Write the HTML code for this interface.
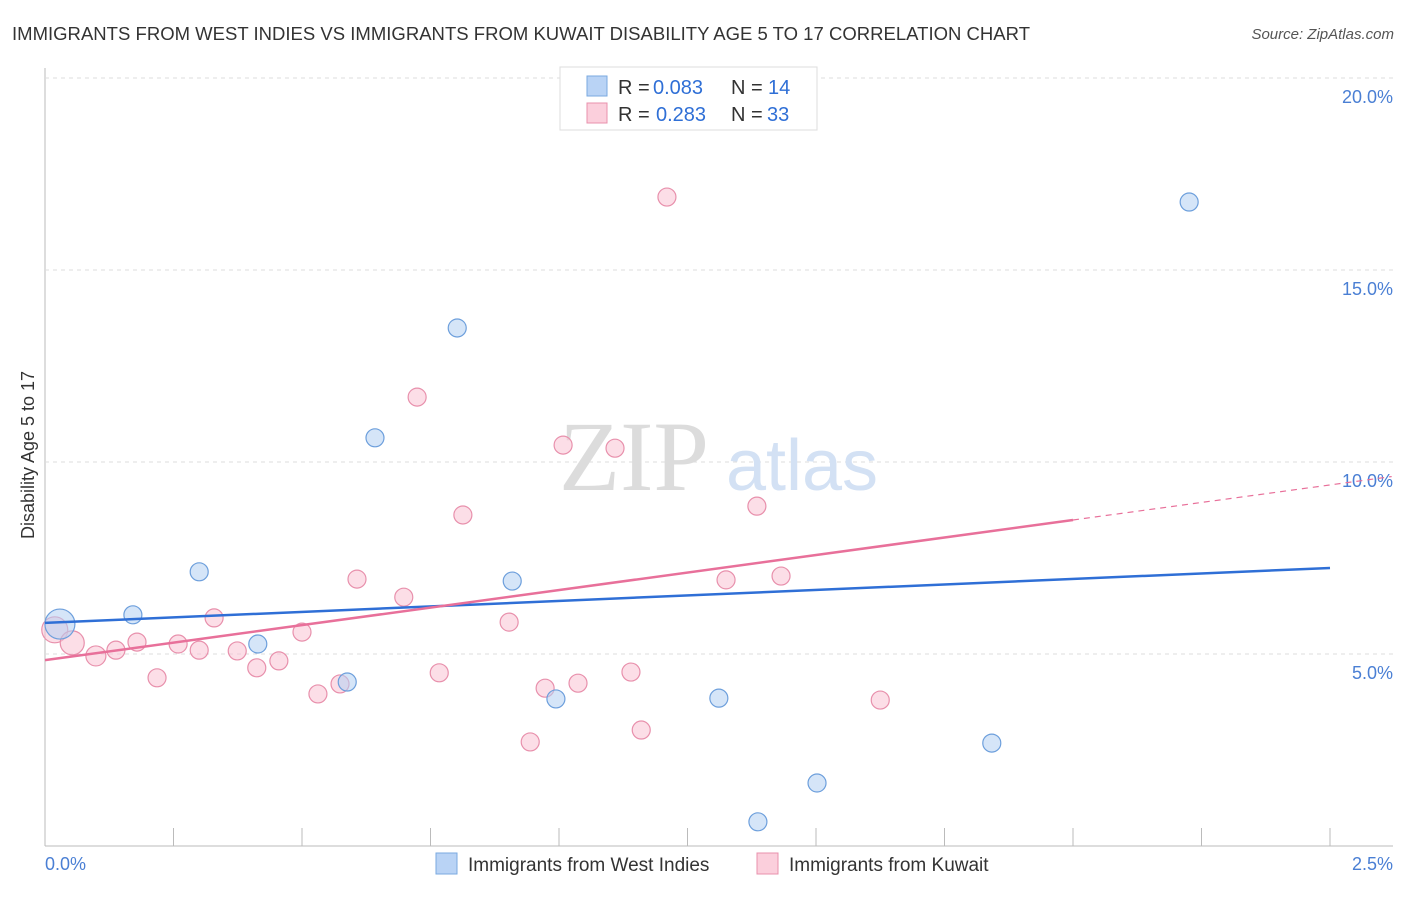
<!DOCTYPE html>
<html><head><meta charset="utf-8"><style>
body{margin:0;background:#fff;font-family:"Liberation Sans",sans-serif;}
</style></head><body>
<svg width="1406" height="892" xmlns="http://www.w3.org/2000/svg">
<text x="12" y="40" font-size="18.5" fill="#333" textLength="1018">IMMIGRANTS FROM WEST INDIES VS IMMIGRANTS FROM KUWAIT DISABILITY AGE 5 TO 17 CORRELATION CHART</text>
<text x="1394" y="39" font-size="15" fill="#555" font-style="italic" text-anchor="end">Source: ZipAtlas.com</text>
<g id="grid"></g>
<text x="634" y="490" font-size="100" fill="#dcdcdc" font-family="Liberation Serif,serif" text-anchor="middle">ZIP</text>
<text x="802" y="490" font-size="72" fill="#d3e1f4" text-anchor="middle">atlas</text>
<g id="marks"></g>
<text transform="translate(34,455) rotate(-90)" font-size="18" fill="#333" text-anchor="middle">Disability Age 5 to 17</text>
<text x="45" y="870" font-size="18" fill="#4a7fd4">0.0%</text>
<text x="1393" y="870" font-size="18" fill="#4a7fd4" text-anchor="end">2.5%</text>
<g font-size="20">
<rect x="560" y="67" width="257" height="63" fill="#fff" stroke="#ddd"/>
<rect x="587" y="76" width="20" height="20" fill="#b9d3f5" stroke="#7aaae0"/>
<text x="618" y="94" fill="#333">R =</text><text x="653" y="94" fill="#2f6fd6">0.083</text>
<text x="731" y="94" fill="#333">N =</text><text x="768" y="94" fill="#2f6fd6">14</text>
<rect x="587" y="103" width="20" height="20" fill="#fbcfdc" stroke="#e890ac"/>
<text x="618" y="121" fill="#333">R =</text><text x="656" y="121" fill="#2f6fd6">0.283</text>
<text x="731" y="121" fill="#333">N =</text><text x="767" y="121" fill="#2f6fd6">33</text>
</g>
<g>
<rect x="436" y="853" width="21" height="21" fill="#b9d3f5" stroke="#7aaae0"/>
<text x="468" y="871" font-size="19" fill="#333">Immigrants from West Indies</text>
<rect x="757" y="853" width="21" height="21" fill="#fbcfdc" stroke="#e890ac"/>
<text x="789" y="871" font-size="19" fill="#333">Immigrants from Kuwait</text>
</g>
</svg>
<script>
const yTicks=[5,10,15,20];
const blueX=[0.029,0.171,0.300,0.414,0.588,0.642,0.802,0.909,0.994,1.311,1.387,1.502,1.842,2.226];
const blueY=[5.78,6.02,7.14,5.26,4.27,10.63,13.49,6.90,3.83,3.85,0.63,1.64,2.68,16.77];
const blueR=[15,9,9,9,9,9,9,9,9,9,9,9,9,9];
const pinkX=[0.019,0.053,0.099,0.138,0.179,0.218,0.259,0.300,0.329,0.374,0.412,0.455,0.500,0.531,0.574,0.607,0.698,0.724,0.767,0.813,0.903,0.944,0.973,1.008,1.037,1.109,1.140,1.160,1.210,1.325,1.385,1.432,1.625];
const pinkY=[5.63,5.29,4.95,5.10,5.31,4.38,5.26,5.10,5.94,5.08,4.64,4.82,5.57,3.96,4.22,6.95,6.48,11.69,4.51,8.62,5.83,2.71,4.11,10.44,4.24,10.36,4.53,3.02,16.90,6.93,8.85,7.03,3.80];
const pinkR=[13,12,10,9,9,9,9,9,9,9,9,9,9,9,9,9,9,9,9,9,9,9,9,9,9,9,9,9,9,9,9,9,9];
const blueLine=[5.81,7.24];
const pinkLine=[4.84,1.825];
const NS="http://www.w3.org/2000/svg";
const xs=v=>45+v/2.5*1285, ys=v=>846-v*38.4;
function mk(p,t,a){const e=document.createElementNS(NS,t);for(const k in a)e.setAttribute(k,a[k]);p.appendChild(e);return e;}
const grid=document.getElementById('grid'),marks=document.getElementById('marks');
let ax=mk(grid,'line',{x1:45,y1:68,x2:45,y2:846,stroke:'#bbb'});


let bx=mk(grid,'line',{x1:45,y1:846,x2:1393,y2:846,stroke:'#bbb'});


for(let i=1;i<=10;i++){const t=mk(grid,'line',{x1:xs(i*0.25),x2:xs(i*0.25),y1:828,y2:846,stroke:'#bbb'});

}
yTicks.forEach(v=>{const g=mk(grid,'line',{x1:45,x2:1393,y1:ys(v),y2:ys(v),stroke:'#ddd','stroke-dasharray':'4,4'});


const t=mk(grid,'text',{x:1393,y:ys(v)+25,'font-size':18,fill:'#4a7fd4','text-anchor':'end'});t.textContent=v.toFixed(1)+'%';

});
function pts(X,Y,R,fill,stroke,name){X.forEach((x,i)=>{const c=mk(marks,'circle',{cx:xs(x),cy:ys(Y[i]),r:R[i],fill:fill,'fill-opacity':0.55,stroke:stroke,'stroke-width':1.2});

});}
pts(pinkX,pinkY,pinkR,'#f9c2d3','#e890ac','kuwait-point');
pts(blueX,blueY,blueR,'#b3cff3','#6d9fdc','west-indies-point');
let bl=mk(marks,'line',{x1:xs(0),y1:ys(blueLine[0]),x2:xs(2.5),y2:ys(blueLine[1]),stroke:'#2f6fd6','stroke-width':2.5});


const pv=x=>pinkLine[0]+pinkLine[1]*x;
let pl=mk(marks,'line',{x1:xs(0),y1:ys(pv(0)),x2:xs(2),y2:ys(pv(2)),stroke:'#e8709a','stroke-width':2.5});


let pd=mk(marks,'line',{x1:xs(2),y1:ys(pv(2)),x2:xs(2.62),y2:ys(pv(2.62)),stroke:'#e8709a','stroke-width':1.2,'stroke-dasharray':'6,5'});


</script>
</body></html>
